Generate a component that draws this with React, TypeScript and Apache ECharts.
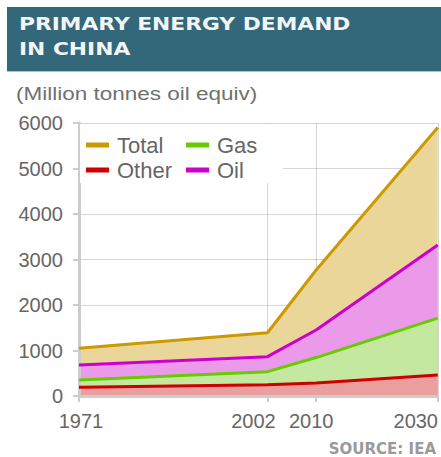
import React, { useEffect, useRef } from 'react';
import * as echarts from 'echarts';

const years = [1971, 2002, 2010, 2030];
const totalLine = [1050, 1390, 2770, 5900];
const oilLine = [680, 865, 1450, 3320];
const gasLine = [350, 535, 845, 1710];
const otherLine = [190, 245, 285, 460];
const xTickLabels = [1971, 2002, 2010, 2030];
const legendOrder = ['Total', 'Gas', 'Other', 'Oil'];
const titleLines = ['PRIMARY ENERGY DEMAND', 'IN CHINA'];
const unitText = '(Million tonnes oil equiv)';
const sourceText = 'SOURCE: IEA';

const lineColors: Record<string, string> = {
  Total: '#cc9900',
  Oil: '#cc00cc',
  Gas: '#66cc00',
  Other: '#cc0000',
};
const fillColors: Record<string, string> = {
  Total: '#ebd69a',
  Oil: '#eb9aea',
  Gas: '#c4e89f',
  Other: '#eb9e9e',
};

// label shifts (rich-text keys) so x labels sit as in the original artwork
const xLabelKey: Record<number, string> = { 1971: 'a', 2002: 'b', 2010: 'c', 2030: 'd' };

export default function App() {
  const ref = useRef<HTMLDivElement>(null);
  useEffect(() => {
    if (!ref.current) return;
    const chart = echarts.init(ref.current, undefined, { renderer: 'svg' });
    const layers = [
      { name: 'Total', values: totalLine },
      { name: 'Oil', values: oilLine },
      { name: 'Gas', values: gasLine },
      { name: 'Other', values: otherLine },
    ];
    const series = layers.map((l) => ({
      name: l.name,
      type: 'line',
      symbol: 'none',
      color: lineColors[l.name],
      lineStyle: { width: 3, color: lineColors[l.name] },
      areaStyle: { color: fillColors[l.name], opacity: 1 },
      data: years.map((y, i) => [y, l.values[i]]),
    }));
    const labelBase = { color: '#666666', fontFamily: 'Liberation Sans', fontSize: 20 };
    chart.setOption({
      animation: false,
      backgroundColor: '#ffffff',
      grid: { left: 79, top: 123, width: 363, height: 273, containLabel: false },
      legend: {
        data: legendOrder,
        left: 80,
        top: 124,
        width: 200,
        orient: 'horizontal',
        icon: 'rect',
        itemWidth: 23,
        itemHeight: 5,
        itemGap: 3,
        padding: [10, 0, 2, 6],
        backgroundColor: '#ffffff',
        itemStyle: { borderWidth: 0 },
        textStyle: {
          fontFamily: 'Liberation Sans',
          fontSize: 22,
          color: '#666666',
          width: 66,
          lineHeight: 22,
          padding: [0, 0, 0, 3],
        },
        z: 10,
      },
      xAxis: {
        type: 'value',
        min: 1971,
        max: 2030,
        z: 3,
        axisLine: { show: true, onZero: false, lineStyle: { color: '#cccccc', width: 3 } },
        axisTick: { show: true, customValues: xTickLabels, length: 6, lineStyle: { color: '#cccccc', width: 2 } },
        axisLabel: {
          customValues: xTickLabels,
          ...labelBase,
          margin: 15,
          formatter: (v: number) => `{${xLabelKey[v] || 'a'}|${v}}`,
          rich: {
            a: { ...labelBase, padding: [0, 0, 0, 4] },
            b: { ...labelBase, padding: [0, 28, 0, 0] },
            c: { ...labelBase, padding: [0, 10, 0, 0] },
            d: { ...labelBase, padding: [0, 44, 0, 0] },
          },
        },
        splitLine: { show: true, lineStyle: { color: 'rgba(0,0,0,0.16)', width: 1 } },
      },
      yAxis: {
        type: 'value',
        min: 0,
        max: 6000,
        interval: 1000,
        z: 3,
        axisLine: { show: true, lineStyle: { color: '#cccccc', width: 3 } },
        axisTick: { show: true, length: 6, lineStyle: { color: '#cccccc', width: 2 } },
        axisLabel: {
          ...labelBase,
          margin: 16,
          formatter: (v: number) => String(v),
        },
        splitLine: { show: true, lineStyle: { color: 'rgba(0,0,0,0.16)', width: 1 } },
      },
      graphic: [
        { type: 'rect', shape: { x: 7, y: 7, width: 434, height: 64 }, style: { fill: '#33677a' }, z: 20 },
        { type: 'rect', shape: { x: 7, y: 71, width: 434, height: 1 }, style: { fill: '#a8c2cb' }, z: 20 },
        {
          type: 'text', x: 19, y: 23.5, scaleX: 1.21, z: 21,
          style: { text: titleLines[0], fill: '#f2f5f6', font: 'bold 18px "DejaVu Sans"', textVerticalAlign: 'middle' },
        },
        {
          type: 'text', x: 19, y: 48.5, scaleX: 1.21, z: 21,
          style: { text: titleLines[1], fill: '#f2f5f6', font: 'bold 18px "DejaVu Sans"', textVerticalAlign: 'middle' },
        },
        {
          type: 'text', x: 16, y: 93.5, scaleX: 1.25, z: 21,
          style: { text: unitText, fill: '#707070', font: '18px "Liberation Sans"', textVerticalAlign: 'middle' },
        },
        {
          type: 'text', x: 436, y: 448.5, z: 21,
          style: { text: sourceText, fill: '#9a9a9a', font: 'bold 15px "DejaVu Sans"', textAlign: 'right', textVerticalAlign: 'middle' },
        },
      ],
      series,
    });
    return () => chart.dispose();
  }, []);
  return <div ref={ref} style={{ position: 'absolute', left: 0, top: 0, width: 441, height: 457 }} />;
}
